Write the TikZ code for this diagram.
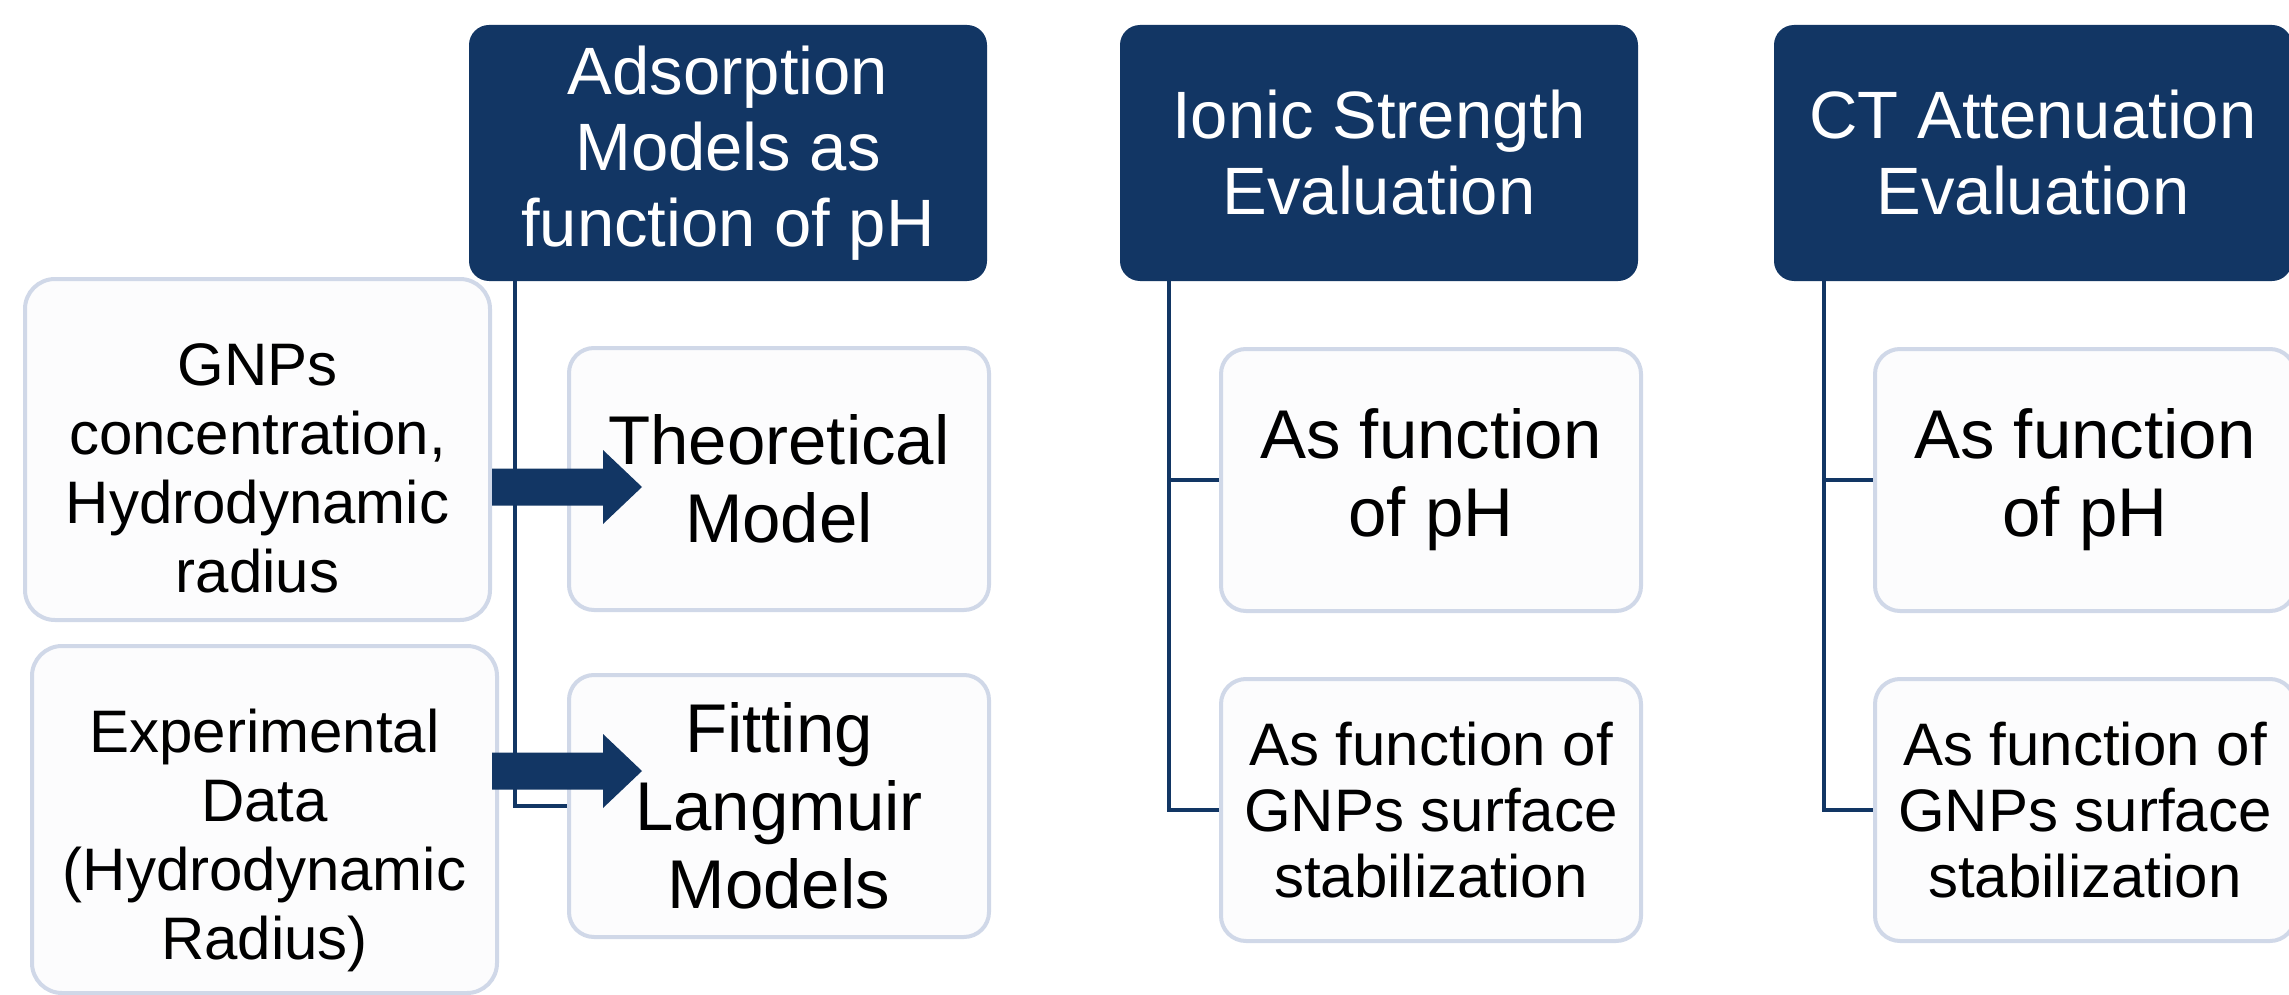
\documentclass[tikz,border=0pt]{standalone}
\usepackage{fontspec}
\setmainfont{Liberation Sans}
\usetikzlibrary{calc}
\definecolor{navy}{RGB}{18,54,100}
\definecolor{boxline}{RGB}{208,216,232}
\definecolor{boxfill}{RGB}{252,252,253}
\tikzset{
  x=1pt, y=-1pt,
  header/.style={fill=navy, draw=none, rounded corners=20pt, text=white, align=center,
    minimum width=518pt, minimum height=256pt, inner sep=0pt,
    font=\fontsize{67}{76}\selectfont},
  child/.style={fill=boxfill, draw=boxline, line width=4pt, rounded corners=25pt, align=center,
    minimum width=420pt, minimum height=262pt, inner sep=0pt,
    font=\fontsize{69}{78}\selectfont},
  childsmall/.style={child, font=\fontsize{60}{66}\selectfont},
  leftbox/.style={fill=boxfill, draw=boxline, line width=4pt, rounded corners=30pt,
    minimum width=465pt, inner sep=0pt},
  lefttext/.style={align=center, inner sep=0pt, font=\fontsize{60}{69}\selectfont},
  conn/.style={draw=navy, line width=3.5pt},
  blockarrow/.style={fill=navy, draw=none}
}
\begin{document}
\begin{tikzpicture}
\useasboundingbox (0,0) rectangle (2289,995);
\fill[white] (0,0) rectangle (2289,995);

% headers
\node[header] (h1) at (728,153) {Adsorption\\Models as\\function of pH};
\node[header] (h2) at (1379,153) {Ionic Strength\\Evaluation};
\node[header] (h3) at (2033,153) {CT Attenuation\\Evaluation};

% child boxes
\node[child] (t1) at (779,479) {Theoretical\\Model};
\node[child] (f1) at (779,806) {Fitting\\Langmuir\\Models};
\node[child] (c2a) at (1431,480) {As function\\of pH};
\node[childsmall] (c2b) at (1431,810) {As function of\\GNPs surface\\stabilization};
\node[child] (c3a) at (2085,480) {As function\\of pH};
\node[childsmall] (c3b) at (2085,810) {As function of\\GNPs surface\\stabilization};

% left boxes
\node[leftbox, minimum height=341pt] (l1) at (257.5,449.5) {};
\node[lefttext] (l1t) at ([yshift=-19pt]l1.center) {GNPs\\concentration,\\Hydrodynamic\\radius};
\node[leftbox, minimum height=347pt] (l2) at (264.5,819.5) {};
\node[lefttext] (l2t) at ([yshift=-21pt]l2.center) {Experimental\\Data\\(Hydrodynamic\\Radius)};

% connectors
\draw[conn] ([xshift=-213pt]h1.south) |- (t1.west);
\draw[conn] ([xshift=-213pt]h1.south) |- (f1.west);
\draw[conn] ([xshift=-210pt]h2.south) |- (c2a.west);
\draw[conn] ([xshift=-210pt]h2.south) |- (c2b.west);
\draw[conn] ([xshift=-209pt]h3.south) |- (c3a.west);
\draw[conn] ([xshift=-209pt]h3.south) |- (c3b.west);

% block arrows
\coordinate (a1s) at (l1.east |- 0,487);
\coordinate (a1e) at (642,487);
\fill[blockarrow] ($(a1s)+(0,-18.5)$) -- ($(a1e)+(-39,-18.5)$) -- ($(a1e)+(-39,-37)$) -- (a1e)
  -- ($(a1e)+(-39,37)$) -- ($(a1e)+(-39,18.5)$) -- ($(a1s)+(0,18.5)$) -- cycle;
\coordinate (a2s) at (l1.east |- 0,771);
\coordinate (a2e) at (642,771);
\fill[blockarrow] ($(a2s)+(0,-18.5)$) -- ($(a2e)+(-39,-18.5)$) -- ($(a2e)+(-39,-37)$) -- (a2e)
  -- ($(a2e)+(-39,37)$) -- ($(a2e)+(-39,18.5)$) -- ($(a2s)+(0,18.5)$) -- cycle;
\end{tikzpicture}
\end{document}
